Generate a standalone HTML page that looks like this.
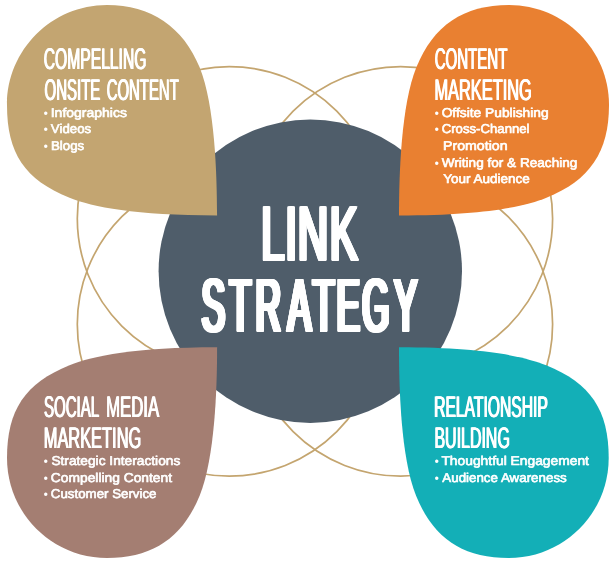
<!DOCTYPE html>
<html lang="en">
<head>
<meta charset="utf-8">
<title>Link Strategy</title>
<style>
html,body{margin:0;padding:0;background:#fff;}
body{width:614px;height:563px;overflow:hidden;}
svg{display:block;}
text{font-family:"Liberation Sans",sans-serif;fill:#fff;text-rendering:geometricPrecision;}
.b{font-weight:normal;font-size:12.8px;stroke:#fff;stroke-width:0.65px;stroke-linejoin:round;}
</style>
</head>
<body>
<svg width="614" height="563" viewBox="0 0 614 563">
<defs>
<filter id="fg" filterUnits="userSpaceOnUse" x="0" y="0" width="614" height="563" color-interpolation-filters="sRGB"><feOffset dx="0" dy="0"/></filter>
</defs>
<rect width="614" height="563" fill="#ffffff"/>
<g fill="none" stroke="#c4a56f" stroke-width="1.7">
<circle cx="229.3" cy="218.6" r="152.0"/>
<circle cx="400.6" cy="218.6" r="152.0"/>
<circle cx="229.3" cy="324.2" r="152.0"/>
<circle cx="400.6" cy="324.2" r="152.0"/>
</g>
<circle cx="310.3" cy="271.2" r="151.7" fill="#4f5d6a"/>
<path d="M217.10 215.40 C135.10 215.40 92.72 207.08 69.54 197.72 C24.67 179.59 7.00 153.39 7.00 105.00 C7.00 49.77 51.77 5.00 107.00 5.00 C150.86 5.00 183.29 26.87 199.72 67.54 C214.93 105.19 217.10 174.83 217.10 215.40 Z" fill="#c3a571"/>
<path d="M399.00 215.40 C481.00 215.40 523.28 207.08 546.46 197.72 C590.00 180.13 609.00 151.96 609.00 105.00 C609.00 49.77 564.23 5.00 509.00 5.00 C463.47 5.00 433.34 25.32 416.28 67.54 C401.07 105.19 399.00 174.83 399.00 215.40 Z" fill="#e98031"/>
<path d="M217.10 347.30 C135.10 347.30 92.72 355.92 69.54 365.28 C25.11 383.23 7.00 410.08 7.00 458.00 C7.00 513.23 51.77 558.00 107.00 558.00 C152.53 558.00 182.66 537.68 199.72 495.46 C214.93 457.81 217.10 387.87 217.10 347.30 Z" fill="#a47e72"/>
<path d="M399.00 347.30 C481.00 347.30 522.98 355.92 546.16 365.28 C590.59 383.23 608.70 410.08 608.70 458.00 C608.70 513.23 563.93 558.00 508.70 558.00 C462.45 558.00 433.31 538.34 415.98 495.46 C400.77 457.81 399.00 387.87 399.00 347.30 Z" fill="#13afb7"/>
<g filter="url(#fg)">
<text transform="translate(0 260.30) scale(0.5400 1)" font-weight="normal" font-size="77.62" style="text-shadow:-2.98px -0.60px 0 #fff,-1.49px -0.60px 0 #fff,0.00px -0.60px 0 #fff,1.49px -0.60px 0 #fff,2.98px -0.60px 0 #fff,-2.98px 0.00px 0 #fff,-1.49px 0.00px 0 #fff,1.49px 0.00px 0 #fff,2.98px 0.00px 0 #fff,-2.98px 0.60px 0 #fff,-1.49px 0.60px 0 #fff,0.00px 0.60px 0 #fff,1.49px 0.60px 0 #fff,2.98px 0.60px 0 #fff" x="483.6 528.5 551.7 610.7" y="0">LINK</text>
<text transform="translate(0 331.40) scale(0.4600 1)" font-weight="normal" font-size="75.58" style="text-shadow:-4.24px -0.60px 0 #fff,-2.12px -0.60px 0 #fff,0.00px -0.60px 0 #fff,2.12px -0.60px 0 #fff,4.24px -0.60px 0 #fff,-4.24px 0.00px 0 #fff,-2.12px 0.00px 0 #fff,2.12px 0.00px 0 #fff,4.24px 0.00px 0 #fff,-4.24px 0.60px 0 #fff,-2.12px 0.60px 0 #fff,0.00px 0.60px 0 #fff,2.12px 0.60px 0 #fff,4.24px 0.60px 0 #fff" x="438.6 499.3 555.9 625.6 680.6 731.7 787.5 856.9" y="0">STRATEGY</text>
<text y="68.60" font-size="29.94"><tspan x="43.81" textLength="102.56" lengthAdjust="spacingAndGlyphs" style="text-shadow:-0.96px 0.00px 0 #fff,0.96px 0.00px 0 #fff">COMPELLING</tspan></text>
<text y="99.90" font-size="29.94"><tspan x="44.59" textLength="55.75" lengthAdjust="spacingAndGlyphs" style="text-shadow:-1.00px 0.00px 0 #fff,1.00px 0.00px 0 #fff">ONSITE</tspan> <tspan x="106.74" textLength="72.00" lengthAdjust="spacingAndGlyphs" style="text-shadow:-1.00px 0.00px 0 #fff,1.00px 0.00px 0 #fff">CONTENT</tspan></text>
<text y="68.60" font-size="29.94"><tspan x="434.63" textLength="72.81" lengthAdjust="spacingAndGlyphs" style="text-shadow:-0.99px 0.00px 0 #fff,0.99px 0.00px 0 #fff">CONTENT</tspan></text>
<text y="99.90" font-size="29.94"><tspan x="434.46" textLength="97.37" lengthAdjust="spacingAndGlyphs" style="text-shadow:-0.91px 0.00px 0 #fff,0.91px 0.00px 0 #fff">MARKETING</tspan></text>
<text y="417.10" font-size="29.94"><tspan x="43.92" textLength="54.77" lengthAdjust="spacingAndGlyphs" style="text-shadow:-1.00px 0.00px 0 #fff,1.00px 0.00px 0 #fff">SOCIAL</tspan> <tspan x="106.13" textLength="53.01" lengthAdjust="spacingAndGlyphs" style="text-shadow:-0.89px 0.00px 0 #fff,0.89px 0.00px 0 #fff">MEDIA</tspan></text>
<text y="448.30" font-size="29.80"><tspan x="43.76" textLength="97.47" lengthAdjust="spacingAndGlyphs" style="text-shadow:-0.91px 0.00px 0 #fff,0.91px 0.00px 0 #fff">MARKETING</tspan></text>
<text y="417.10" font-size="29.94"><tspan x="434.13" textLength="113.69" lengthAdjust="spacingAndGlyphs" style="text-shadow:-0.97px 0.00px 0 #fff,0.97px 0.00px 0 #fff">RELATIONSHIP</tspan></text>
<text y="448.30" font-size="29.80"><tspan x="434.49" textLength="75.30" lengthAdjust="spacingAndGlyphs" style="text-shadow:-0.93px 0.00px 0 #fff,0.93px 0.00px 0 #fff">BUILDING</tspan></text>
<g>
<text class="b" y="116.80"><tspan font-weight="bold" stroke="none" font-size="11.4" x="43.71" dy="-0.00">• </tspan><tspan x="50.74" dy="0.00" textLength="76.14" lengthAdjust="spacingAndGlyphs">Infographics</tspan></text>
<text class="b" y="133.20"><tspan font-weight="bold" stroke="none" font-size="11.4" x="43.71" dy="-0.00">• </tspan><tspan x="50.87" dy="0.00" textLength="40.28" lengthAdjust="spacingAndGlyphs">Videos</tspan></text>
<text class="b" y="149.90"><tspan font-weight="bold" stroke="none" font-size="11.4" x="43.71" dy="-0.00">• </tspan><tspan x="50.94" dy="0.00" textLength="33.22" lengthAdjust="spacingAndGlyphs">Blogs</tspan></text>
<text class="b" y="116.80"><tspan font-weight="bold" stroke="none" font-size="11.4" x="434.71" dy="-0.00">• </tspan><tspan x="441.67" dy="0.00" textLength="106.99" lengthAdjust="spacingAndGlyphs">Offsite Publishing</tspan></text>
<text class="b" y="133.20"><tspan font-weight="bold" stroke="none" font-size="11.4" x="434.71" dy="-0.00">• </tspan><tspan x="441.66" dy="0.00" textLength="87.90" lengthAdjust="spacingAndGlyphs">Cross-Channel</tspan></text>
<text class="b" y="149.90"><tspan x="442.96" textLength="64.63" lengthAdjust="spacingAndGlyphs">Promotion</tspan></text>
<text class="b" y="166.70"><tspan font-weight="bold" stroke="none" font-size="11.4" x="434.71" dy="-0.00">• </tspan><tspan x="441.67" dy="0.00" textLength="135.68" lengthAdjust="spacingAndGlyphs">Writing for &amp; Reaching</tspan></text>
<text class="b" y="183.40"><tspan x="443.23" textLength="86.63" lengthAdjust="spacingAndGlyphs">Your Audience</tspan></text>
<text class="b" y="465.00"><tspan font-weight="bold" stroke="none" font-size="11.4" x="43.71" dy="-0.00">• </tspan><tspan x="51.40" dy="0.00" textLength="128.87" lengthAdjust="spacingAndGlyphs">Strategic Interactions</tspan></text>
<text class="b" y="481.60"><tspan font-weight="bold" stroke="none" font-size="11.4" x="43.71" dy="-0.00">• </tspan><tspan x="50.82" dy="0.00" textLength="121.25" lengthAdjust="spacingAndGlyphs">Compelling Content</tspan></text>
<text class="b" y="498.20"><tspan font-weight="bold" stroke="none" font-size="11.4" x="43.71" dy="-0.00">• </tspan><tspan x="50.85" dy="0.00" textLength="105.62" lengthAdjust="spacingAndGlyphs">Customer Service</tspan></text>
<text class="b" y="465.00"><tspan font-weight="bold" stroke="none" font-size="11.4" x="434.71" dy="-0.00">• </tspan><tspan x="441.41" dy="0.00" textLength="147.56" lengthAdjust="spacingAndGlyphs">Thoughtful Engagement</tspan></text>
<text class="b" y="481.60"><tspan font-weight="bold" stroke="none" font-size="11.4" x="434.71" dy="-0.00">• </tspan><tspan x="442.30" dy="0.00" textLength="124.45" lengthAdjust="spacingAndGlyphs">Audience Awareness</tspan></text>
</g>
</g>
</svg>
</body>
</html>
